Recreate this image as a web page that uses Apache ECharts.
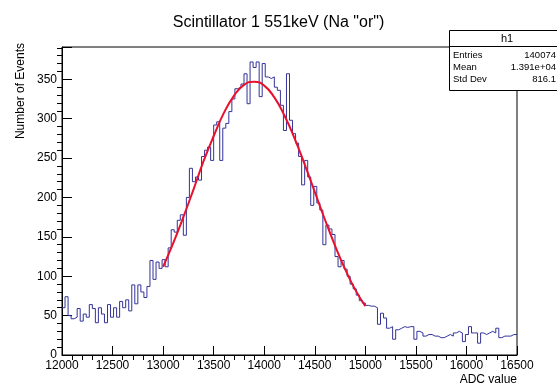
<!DOCTYPE html>
<html>
<head>
<meta charset="utf-8">
<script src="https://cdn.jsdelivr.net/npm/echarts@6/dist/echarts.min.js"></script>
<style>
  html, body { margin: 0; background: #fff; }
  #chart { width: 557px; height: 385px; }
</style>
</head>
<body>
<div id="chart"></div>
<script>
// histogram h1: 150 bins of 30 ADC counts from 12000 to 16500
var xMin = 12000;
var binWidth = 30;
var counts = [
  60, 74, 50, 46, 48, 59, 43, 52, 48, 64, 59, 41, 60, 52, 41, 64, 48, 60, 48, 68,
  60, 70, 56, 89, 65, 89, 80, 73, 87, 120, 96, 118, 110, 121, 112, 136, 159, 156, 171, 178,
  152, 200, 237, 220, 226, 222, 252, 260, 264, 247, 292, 296, 247, 288, 294, 309, 325, 338, 340, 344,
  357, 319, 372, 365, 372, 328, 370, 353, 351, 353, 340, 336, 317, 285, 357, 298, 281, 269, 252, 216,
  247, 226, 190, 214, 193, 184, 140, 165, 160, 153, 125, 112, 120, 109, 100, 90, 84, 76, 69, 66,
  63, 62, 62, 60, 39, 53, 47, 34, 36, 20, 32, 34, 36, 35, 36, 36, 20, 30, 28, 24,
  26, 26, 24, 24, 22, 22, 24, 26, 24, 28, 30, 28, 17, 26, 36, 28, 28, 15, 28, 26,
  28, 30, 28, 34, 22, 24, 24, 24, 26, 26
];

// gaussian fit curve
var fitX = [13000, 13100, 13200, 13300, 13400, 13500, 13600, 13700, 13800, 13900, 14000,
            14100, 14200, 14300, 14400, 14500, 14600, 14700, 14800, 14900, 15000];
var fitY = [112, 142, 175, 210, 246, 278, 307, 329, 343, 347, 342,
            327, 304, 275, 242, 207, 172, 139, 109, 83, 62];

var statNames = ['Entries', 'Mean', 'Std Dev'];
var statValues = ['140074', '1.391e+04', '816.1'];

var font = 'Liberation Sans';

var histData = [];
for (var i = 0; i < counts.length; i++) {
  histData.push([xMin + i * binWidth, counts[i]]);
}
histData.push([xMin + counts.length * binWidth, counts[counts.length - 1]]);

var fitData = fitX.map(function (x, i) { return [x, fitY[i]]; });

// stats box
var box = { x: 449, y: 30, w: 112, h: 60 };
var statGraphics = [
  { type: 'rect', shape: { x: box.x + 0.5, y: box.y + 0.5, width: box.w, height: box.h },
    style: { fill: '#fff', stroke: '#000', lineWidth: 1 }, z: 100 },
  { type: 'line', shape: { x1: box.x, y1: box.y + 16.5, x2: box.x + box.w, y2: box.y + 16.5 },
    style: { stroke: '#000', lineWidth: 1 }, z: 101 },
  { type: 'text', x: 507, y: box.y + 9, z: 101,
    style: { text: 'h1', font: '11px ' + font, fill: '#000', align: 'center', verticalAlign: 'middle' } }
];
statNames.forEach(function (n, i) {
  var yy = box.y + 25 + i * 12;
  statGraphics.push({ type: 'text', x: box.x + 4, y: yy, z: 101,
    style: { text: n, font: '9.5px ' + font, fill: '#000', align: 'left', verticalAlign: 'middle' } });
  statGraphics.push({ type: 'text', x: 556, y: yy, z: 101,
    style: { text: statValues[i], font: '9.5px ' + font, fill: '#000', align: 'right', verticalAlign: 'middle' } });
});

var chart = echarts.init(document.getElementById('chart'));
chart.setOption({
  animation: false,
  backgroundColor: '#fff',
  title: {
    text: 'Scintillator 1 551keV (Na "or")',
    left: 'center',
    top: 10,
    textStyle: { fontFamily: font, fontSize: 16, fontWeight: 'normal', color: '#000' }
  },
  grid: {
    left: 62, right: 40, top: 47, bottom: 30,
    show: true, borderColor: '#000', borderWidth: 1, backgroundColor: 'transparent'
  },
  xAxis: {
    type: 'value',
    min: 12000, max: 16500, interval: 500,
    axisLine: { show: true, onZero: false, lineStyle: { color: '#000', width: 1 } },
    axisTick: { inside: true, length: 9, lineStyle: { color: '#000' } },
    minorTick: { show: true, splitNumber: 5, length: -5, lineStyle: { color: '#000' } },
    splitLine: { show: false },
    axisLabel: { color: '#000', fontFamily: font, fontSize: 12, margin: 5,
      formatter: function (v) { return String(v); } }
  },
  yAxis: {
    type: 'value',
    min: 0, max: 391, interval: 50,
    axisLine: { show: true, lineStyle: { color: '#000', width: 1 } },
    axisTick: { inside: true, length: 10, lineStyle: { color: '#000' } },
    minorTick: { show: true, splitNumber: 5, length: -5, lineStyle: { color: '#000' } },
    splitLine: { show: false },
    axisLabel: { color: '#000', fontFamily: font, fontSize: 12, margin: 5, showMaxLabel: false }
  },
  graphic: [
    { type: 'text', x: 21, y: 43, rotation: Math.PI / 2,
      style: { text: 'Number of Events', font: '12px ' + font, fill: '#000', align: 'right', verticalAlign: 'middle' } },
    { type: 'text', x: 517, y: 380,
      style: { text: 'ADC value', font: '12px ' + font, fill: '#000', align: 'right', verticalAlign: 'middle' } }
  ].concat(statGraphics),
  series: [
    {
      name: 'h1',
      type: 'line',
      step: 'end',
      data: histData,
      symbol: 'none',
      lineStyle: { color: '#333399', width: 1 },
      z: 2
    },
    {
      name: 'fit',
      type: 'line',
      smooth: true,
      data: fitData,
      symbol: 'none',
      lineStyle: { color: '#e8102c', width: 2 },
      z: 3
    }
  ]
});
</script>
</body>
</html>
